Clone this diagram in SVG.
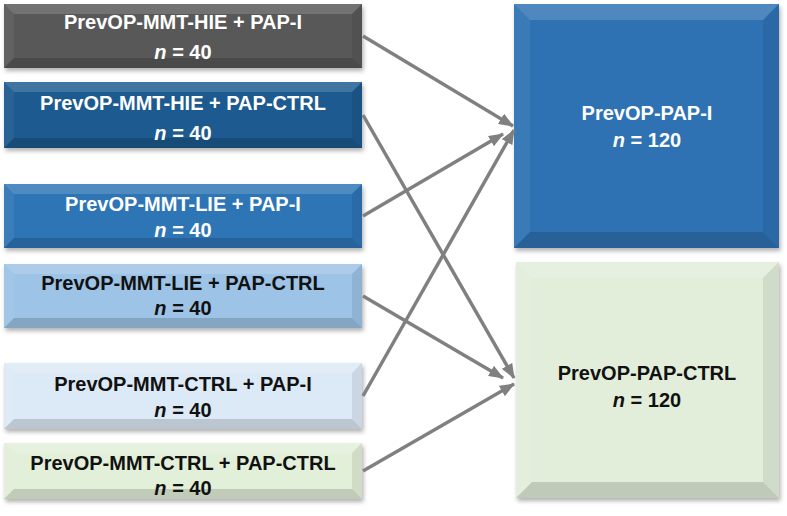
<svg xmlns="http://www.w3.org/2000/svg" width="787" height="516" viewBox="0 0 787 516">
<style>
.t{font-family:"Liberation Sans",Arial,sans-serif;font-weight:bold;font-size:20px;text-anchor:middle}
.w{fill:#ffffff}
.k{fill:#111111}
.bt{fill:#ffffff;fill-opacity:0.16}
.bl{fill:#ffffff;fill-opacity:0.06}
.br{fill:#000000;fill-opacity:0.08}
.bb{fill:#000000;fill-opacity:0.15}
.c{stroke:#808080;stroke-width:3.5;fill:none;marker-end:url(#ah)}
</style>
<defs>
<filter id="sh" x="-5%" y="-10%" width="115%" height="130%">
<feDropShadow dx="1.5" dy="3" stdDeviation="2" flood-color="#000" flood-opacity="0.3"/>
</filter>
<marker id="ah" markerUnits="userSpaceOnUse" markerWidth="16" markerHeight="12" refX="14" refY="6" orient="auto">
<path d="M0,0 L15,6 L0,12 z" fill="#808080"/>
</marker>
</defs>
<rect width="787" height="516" fill="#ffffff"/>

<g id="n1">
<rect x="4" y="4" width="358" height="64" fill="#595959" filter="url(#sh)"/>
<polygon class="bt" points="4,4 362,4 352,14 14,14"/>
<polygon class="bl" points="4,4 14,14 14,58 4,68"/>
<polygon class="br" points="362,4 362,68 352,58 352,14"/>
<polygon class="bb" points="4,68 14,58 352,58 362,68"/>
<text class="t w" x="183" y="29">PrevOP-MMT-HIE + PAP-I</text>
<text class="t w" x="183" y="59"><tspan font-style="italic">n</tspan> = 40</text>
</g>

<g id="n2">
<rect x="4" y="82" width="358" height="66" fill="#1f5a8f" filter="url(#sh)"/>
<polygon class="bt" points="4,82 362,82 352,92 14,92"/>
<polygon class="bl" points="4,82 14,92 14,138 4,148"/>
<polygon class="br" points="362,82 362,148 352,138 352,92"/>
<polygon class="bb" points="4,148 14,138 352,138 362,148"/>
<text class="t w" x="183" y="110">PrevOP-MMT-HIE + PAP-CTRL</text>
<text class="t w" x="183" y="140"><tspan font-style="italic">n</tspan> = 40</text>
</g>

<g id="n3">
<rect x="4" y="184" width="358" height="64" fill="#2e75b6" filter="url(#sh)"/>
<polygon class="bt" points="4,184 362,184 352,194 14,194"/>
<polygon class="bl" points="4,184 14,194 14,238 4,248"/>
<polygon class="br" points="362,184 362,248 352,238 352,194"/>
<polygon class="bb" points="4,248 14,238 352,238 362,248"/>
<text class="t w" x="183" y="211">PrevOP-MMT-LIE + PAP-I</text>
<text class="t w" x="183" y="237"><tspan font-style="italic">n</tspan> = 40</text>
</g>

<g id="n4">
<rect x="4" y="264" width="358" height="64" fill="#9dc3e6" filter="url(#sh)"/>
<polygon class="bt" points="4,264 362,264 352,274 14,274"/>
<polygon class="bl" points="4,264 14,274 14,318 4,328"/>
<polygon class="br" points="362,264 362,328 352,318 352,274"/>
<polygon class="bb" points="4,328 14,318 352,318 362,328"/>
<text class="t k" x="183" y="290">PrevOP-MMT-LIE + PAP-CTRL</text>
<text class="t k" x="183" y="315"><tspan font-style="italic">n</tspan> = 40</text>
</g>

<g id="n5">
<rect x="4" y="363" width="358" height="66" fill="#dce9f6" filter="url(#sh)"/>
<polygon class="bt" points="4,363 362,363 352,373 14,373"/>
<polygon class="bl" points="4,363 14,373 14,419 4,429"/>
<polygon class="br" points="362,363 362,429 352,419 352,373"/>
<polygon class="bb" points="4,429 14,419 352,419 362,429"/>
<text class="t k" x="183" y="391">PrevOP-MMT-CTRL + PAP-I</text>
<text class="t k" x="183" y="417"><tspan font-style="italic">n</tspan> = 40</text>
</g>

<g id="n6">
<rect x="4" y="443" width="358" height="56" fill="#e2efd9" filter="url(#sh)"/>
<polygon class="bt" points="4,443 362,443 352,453 14,453"/>
<polygon class="bl" points="4,443 14,453 14,489 4,499"/>
<polygon class="br" points="362,443 362,499 352,489 352,453"/>
<polygon class="bb" points="4,499 14,489 352,489 362,499"/>
<text class="t k" x="183" y="470">PrevOP-MMT-CTRL + PAP-CTRL</text>
<text class="t k" x="183" y="495"><tspan font-style="italic">n</tspan> = 40</text>
</g>

<g id="r1">
<rect x="514" y="4" width="265" height="244" fill="#2e72b3" filter="url(#sh)"/>
<polygon class="bt" points="514,4 779,4 763,20 530,20"/>
<polygon class="bl" points="514,4 530,20 530,232 514,248"/>
<polygon class="br" points="779,4 779,248 763,232 763,20"/>
<polygon class="bb" points="514,248 530,232 763,232 779,248"/>
<text class="t w" x="647" y="120">PrevOP-PAP-I</text>
<text class="t w" x="647" y="147"><tspan font-style="italic">n</tspan> = 120</text>
</g>

<g id="r2">
<rect x="516" y="262" width="263" height="236" fill="#e2eeda" filter="url(#sh)"/>
<polygon class="bt" points="516,262 779,262 763,278 532,278"/>
<polygon class="bl" points="516,262 532,278 532,482 516,498"/>
<polygon class="br" points="779,262 779,498 763,482 763,278"/>
<polygon class="bb" points="516,498 532,482 763,482 779,498"/>
<text class="t k" x="647" y="380">PrevOP-PAP-CTRL</text>
<text class="t k" x="647" y="407"><tspan font-style="italic">n</tspan> = 120</text>
</g>

<g id="connectors">
<line class="c" x1="363" y1="36" x2="513" y2="126"/>
<line class="c" x1="363" y1="115" x2="514" y2="378"/>
<line class="c" x1="363" y1="216" x2="503" y2="134"/>
<line class="c" x1="363" y1="296" x2="503" y2="378"/>
<line class="c" x1="363" y1="396" x2="514" y2="130"/>
<line class="c" x1="363" y1="471" x2="514" y2="384"/>
</g>
</svg>
